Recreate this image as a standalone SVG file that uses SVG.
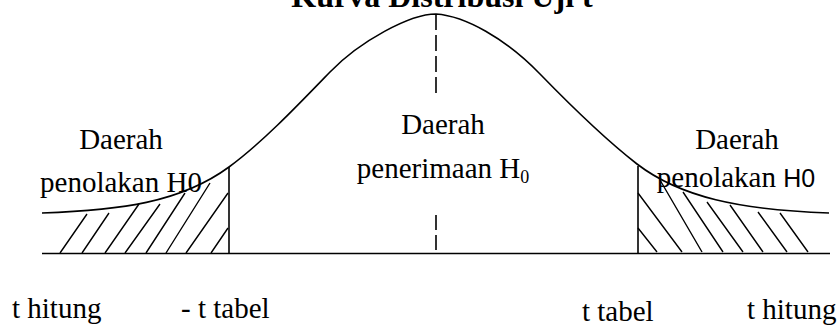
<svg xmlns="http://www.w3.org/2000/svg" width="837" height="327" viewBox="0 0 837 327">
<style>
.ln{fill:none;stroke:#000;stroke-width:1.6}
.hatch{fill:none;stroke:#000;stroke-width:1.4}
.dash{fill:none;stroke:#000;stroke-width:1.6}
.t{font-family:"Liberation Serif","Times New Roman",serif;font-size:29px;fill:#000}
.title{font-family:"Liberation Serif","Times New Roman",serif;font-size:32px;font-weight:bold;fill:#000}
</style>
<rect width="837" height="327" fill="#fff"/>
<text id="title" class="title" x="442" y="7" text-anchor="middle">Kurva Distribusi Uji t</text>
<g id="axis">
<path class="ln" d="M42,253.5 H830" stroke-width="2"/>
<path class="ln" d="M229,167 V253"/>
<path class="ln" d="M638,166 V253"/>
</g>
<g id="curve">
<path class="ln" d="M42,213 C120,210 180,203 229,167 C262,143 300,103 330,72 C360,41 410,14 436,14 C465,16 505,38 540,74 C575,110 610,143 637,164 C680,197 740,210 829,213"/>
</g>
<g id="center-line">
<path class="dash" d="M436,14 V95" stroke-dasharray="16 5"/>
<path class="dash" d="M436,215 V251" stroke-dasharray="15 5"/>
</g>
<g id="left-hatch">
<path class="hatch" d="M60,253 L87,214 M82,253 L109,213 M105,253 L139,204 M125,253 L160,204 M146,253 L185,193 M166,253 L210,183 M186,253 L228,193 M211,253 L228,228"/>
</g>
<g id="right-hatch">
<path class="hatch" d="M638,228 L657,252 M638,193 L682,252 M660,180 L702,252 M683,192 L723,252 M707,202 L743,252 M730,205 L763,252 M758,212 L787,252 M780,213 L808,252"/>
</g>
<g id="label-left">
<text class="t" x="121" y="149" text-anchor="middle">Daerah</text>
<text class="t" x="121" y="192" text-anchor="middle">penolakan H0</text>
</g>
<g id="label-center">
<text class="t" x="443" y="134" text-anchor="middle">Daerah</text>
<text class="t" x="443" y="178" text-anchor="middle">penerimaan H<tspan font-size="18" dy="5">0</tspan></text>
</g>
<g id="label-right">
<text class="t" x="737" y="149" text-anchor="middle">Daerah</text>
<text class="t" x="736" y="187" text-anchor="middle">penolakan <tspan font-family="Liberation Sans, Arial, sans-serif" font-size="25">H0</tspan></text>
</g>
<g id="bottom-labels">
<text class="t" x="12" y="318">t hitung</text>
<text class="t" x="181" y="318">- t tabel</text>
<text class="t" x="582" y="321">t tabel</text>
<text class="t" x="747" y="319">t hitung</text>
</g>
</svg>
